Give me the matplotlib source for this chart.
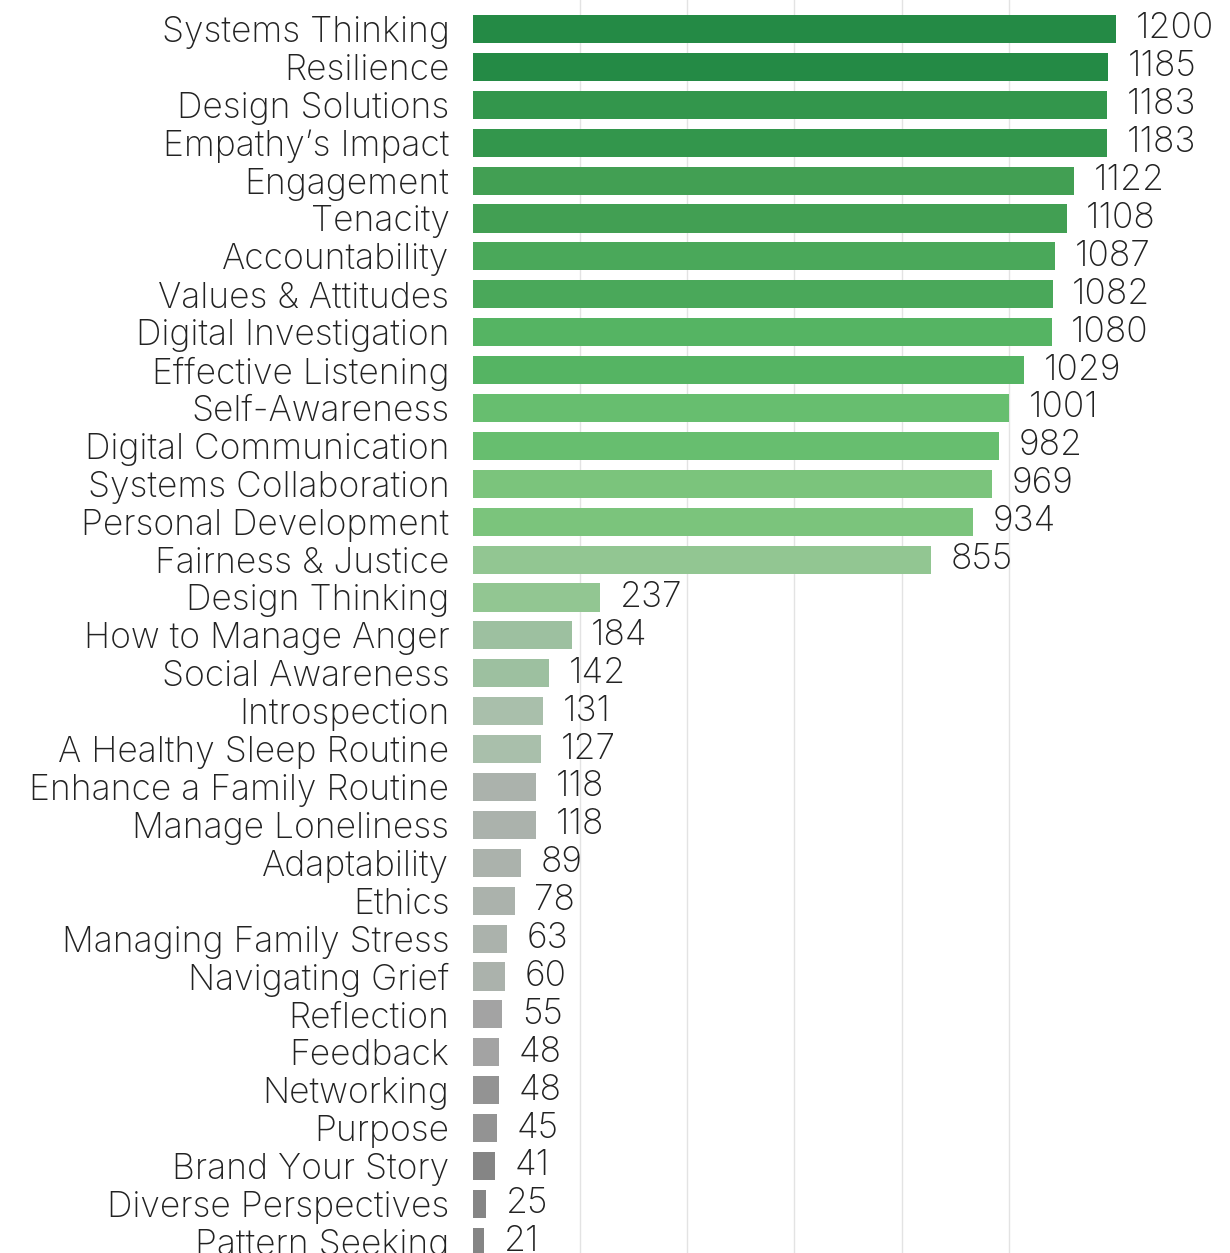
import matplotlib.pyplot as plt

# 课程名称和数量
categories = ['Systems Thinking', 'Resilience', 'Design Solutions', "Empathy’s Impact",
              'Engagement', 'Tenacity', 'Accountability', 'Values & Attitudes',
              'Digital Investigation', 'Effective Listening', 'Self-Awareness',
              'Digital Communication', 'Systems Collaboration', 'Personal Development',
              'Fairness & Justice', 'Design Thinking', 'How to Manage Anger',
              'Social Awareness', 'Introspection', 'A Healthy Sleep Routine',
              'Enhance a Family Routine', 'Manage Loneliness', 'Adaptability', 'Ethics',
              'Managing Family Stress', 'Navigating Grief', 'Reflection', 'Feedback',
              'Networking', 'Purpose', 'Brand Your Story', 'Diverse Perspectives',
              'Pattern Seeking']
values = [1200, 1185, 1183, 1183, 1122, 1108, 1087, 1082, 1080, 1029, 1001, 982, 969,
          934, 855, 237, 184, 142, 131, 127, 118, 118, 89, 78, 63, 60, 55, 48, 48, 45,
          41, 25, 21]
colors = ['#248a45', '#248a45', '#33964c', '#33964c', '#429f53', '#429f53', '#4aa85a',
          '#4aa85a', '#55b463', '#55b463', '#67be6f', '#67be6f', '#7bc47c', '#7bc47c',
          '#92c692', '#92c692', '#9dc0a0', '#9dc0a0', '#a9bfab', '#a9bfab', '#abb2ac',
          '#abb2ac', '#abb2ac', '#abb2ac', '#abb2ac', '#abb2ac', '#a3a3a3', '#a3a3a3',
          '#939393', '#939393', '#858585', '#858585', '#858585']

plt.rcParams['font.family'] = ['Inter', 'DejaVu Sans']

fig = plt.figure(figsize=(12.3, 12.53), dpi=100)
ax = fig.add_axes([473 / 1230, 0, 1 - 473 / 1230, 1])

y = range(len(categories))
ax.barh(y, values, height=0.74, color=colors, zorder=2)

ax.set_xlim(0, 1412.8)
ax.set_ylim(32.296, -0.765)  # 最后一行被裁掉一点

ax.set_xticks([200, 400, 600, 800, 1000])
ax.xaxis.grid(True, color='#e3e3e3', linewidth=1, zorder=0)
ax.tick_params(axis='x', length=0, labelbottom=False)

ax.set_yticks(list(y))
ax.set_yticklabels(categories, fontsize=25.5, color='#222222', fontweight='light')
ax.tick_params(axis='y', length=0, pad=17)

for s in ax.spines.values():
    s.set_visible(False)

for i, v in enumerate(values):
    ax.annotate(str(v), (v, i), xytext=(14, 0), textcoords='offset points',
                va='center', ha='left', fontsize=25.5, color='#222222', fontweight='light')

plt.savefig('out.png', dpi=100)
